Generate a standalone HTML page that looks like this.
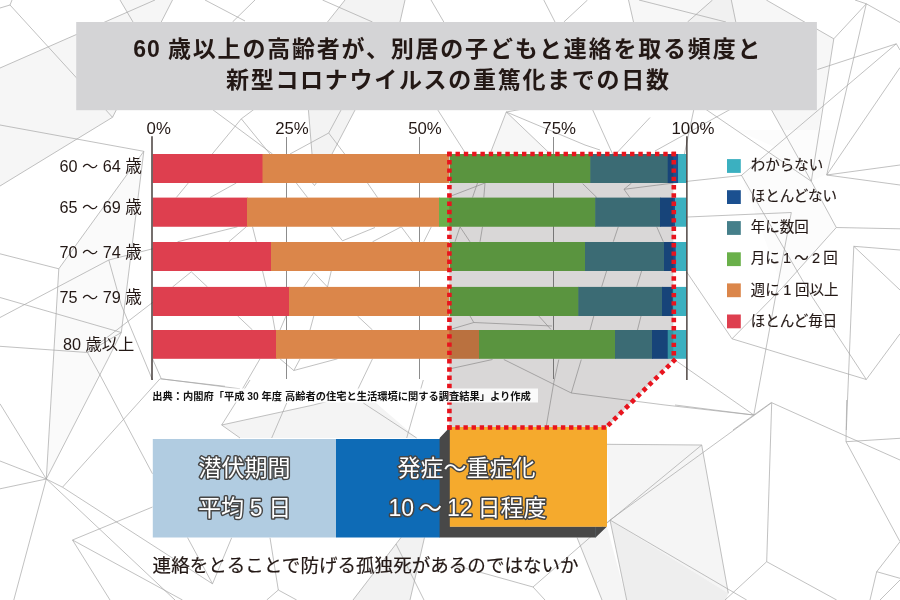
<!DOCTYPE html>
<html lang="ja">
<head>
<meta charset="utf-8">
<title>60歳以上の高齢者が、別居の子どもと連絡を取る頻度と新型コロナウイルスの重篤化までの日数</title>
<style>
html,body{margin:0;padding:0;background:#fff;}
body{width:900px;height:600px;overflow:hidden;position:relative;}
svg{position:absolute;left:0;top:0;display:block;}
text{font-family:"Liberation Sans","Noto Sans CJK JP",sans-serif;fill:#231815;}
.ttl{font-size:23px;font-weight:700;letter-spacing:1.7px;}
.ax{font-size:16.8px;}
.row{font-size:16.2px;}
.row .k{font-size:16.6px;}
.lg text{font-size:14.5px;stroke:#231815;stroke-width:0.15px;}
.src{font-size:10.25px;font-weight:700;fill:#111;}
.big text{font-size:23px;fill:#fff;stroke:#454545;stroke-width:3px;stroke-linejoin:round;paint-order:stroke fill;}
.note{font-size:18.56px;stroke:#231815;stroke-width:0.2px;}
</style>
</head>
<body>
<svg id="chart" width="900" height="600" viewBox="0 0 900 600">
<!--BG-->
<g id="bg">
<polygon points="0,68 127,12 120,0 172.5,0 112.5,117.3 0,186" fill="#f6f6f6"/>
<polygon points="143.8,151.3 58.8,268.8 53,370 46.3,479 107.5,360 121.3,332.5 133.8,230" fill="#fafafa"/>
<polygon points="345,0 405,0 400,22 355.3,109.5 332,154 312,154 308.4,109.5 328,22" fill="#f3f3f3"/>
<polygon points="506.3,112 490,154 548.8,152.5" fill="#f7f7f7"/>
<polygon points="221.7,425 313.3,405 363.3,392 416.7,438 240,438" fill="#f4f4f4"/>
<polygon points="401,537.5 424.5,537.5 410,600 353,600" fill="#f2f2f2"/>
<polygon points="577,537.5 607,527 626.7,600 602,600" fill="#f5f5f5"/>
<polygon points="607,444 701.7,445 728.3,593.3 610,520" fill="#f5f5f5"/>
<polygon points="610,520 728.3,593.3 726,600 626.7,600" fill="#eeeeee"/>
<polygon points="628.5,0 766,0 833.8,38.8 815,150 792.5,150 771,109.5 707,109.5 687.5,22 633.5,22" fill="#f7f7f7"/>
<polygon points="712.5,0 731.3,0 735.8,22 687.5,22" fill="#f1f1f1"/>
<polygon points="735.5,130 837,130 826.5,174.3 811.3,181.3 836.3,227.5 782.5,287.5 741.3,175.5 775,147" fill="#fcfcfc"/>
<g fill="none" stroke="#a6a6a6" stroke-width="0.7">
<polyline points="0,68 155,0"/>
<polyline points="0,8 10,5 12,0"/>
<polyline points="10,5 112.5,117.3"/>
<polyline points="120,0 133,22"/>
<polyline points="172.5,0 112.5,117.3 0,186"/>
<polyline points="205,0 245,21"/>
<polyline points="255,0 232.5,22"/>
<polyline points="322.5,0 372.5,22"/>
<polyline points="345,0 327.5,22"/>
<polyline points="405,0 400,22"/>
<polyline points="431,0 443.8,22"/>
<polyline points="543.8,0 555,22"/>
<polyline points="587.5,0 563.8,22"/>
<polyline points="628.5,0 633.5,22"/>
<polyline points="639,0 726,22"/>
<polyline points="712.5,0 687.5,22"/>
<polyline points="731.3,0 735.8,22"/>
<polyline points="766.3,0 833.8,38.8 866.3,3.8 855,0"/>
<polyline points="866.3,3.8 900,22.5"/>
<polyline points="866.3,3.8 826.7,175"/>
<polyline points="833.8,38.8 811.3,181.3"/>
<polyline points="896.3,43.8 817.5,69.5"/>
<polyline points="896.3,43.8 741.3,175.5 687.5,181.3"/>
<polyline points="896.3,43.8 900,50"/>
<polyline points="900,67.5 826.7,175"/>
<polyline points="826.7,175 900,165"/>
<polyline points="826.7,175 900,185"/>
<polyline points="0,125 143.8,151.3"/>
<polyline points="143.8,151.3 58.8,268.8 46.3,479"/>
<polyline points="143.8,151.3 121.3,332.5 87.5,352.5"/>
<polyline points="0,253.8 58.8,268.8"/>
<polyline points="0,317.5 108.8,260 152.5,248.8"/>
<polyline points="108.8,260 121.3,305 152.5,380"/>
<polyline points="0,297.5 121.3,332.5"/>
<polyline points="0,346.3 87.5,352.5 152.5,302.5"/>
<polyline points="87.5,352.5 100,375 152.5,473.8"/>
<polyline points="46.3,479 107.5,360 121.3,332.5"/>
<polyline points="0,403.8 46.3,479"/>
<polyline points="0,461 46.3,479"/>
<polyline points="0,488.8 46.3,479"/>
<polyline points="46.3,479 13.8,600"/>
<polyline points="46.3,479 175,600"/>
<polyline points="46.3,479 62.5,487.2"/>
<polyline points="62.5,487.2 160,378.8 225,386.3"/>
<polyline points="62.5,487.2 212.5,583.8 187.5,537.5"/>
<polyline points="212.5,583.8 231.7,537.7"/>
<polyline points="270,537.7 278.3,590 266.7,600"/>
<polyline points="278.3,590 296.7,600"/>
<polyline points="72.5,540 152.5,507"/>
<polyline points="72.5,540 110,600"/>
<polyline points="72.5,540 182.5,600"/>
<polyline points="212.5,109.5 272.5,154"/>
<polyline points="253.8,109.5 241.3,118.8 176.3,197.5"/>
<polyline points="241.3,118.8 270,154"/>
<polyline points="308.4,109.5 312,154"/>
<polyline points="355.3,109.5 332,154"/>
<polyline points="341.3,109.5 328.7,133 290,154"/>
<polyline points="328.7,133 344.7,154"/>
<polyline points="437.5,109.5 465,152.5"/>
<polyline points="520,109.5 506.3,112 490,154"/>
<polyline points="506.3,112 548.8,152.5"/>
<polyline points="506.3,112 585,145 600,150"/>
<polyline points="236.3,183 210,197.5"/>
<polyline points="296.3,183 307.5,197.5"/>
<polyline points="312.5,183 314.5,185.5 316.3,183"/>
<polyline points="367.5,183 377.5,197.5"/>
<polyline points="237.5,226.8 177.5,241.8"/>
<polyline points="246.3,226.8 228.8,241.8"/>
<polyline points="252.5,226.8 256.3,241.8"/>
<polyline points="331.3,226.8 342.5,240.8 375,227.5"/>
<polyline points="372.5,241.8 401.3,226.8 412.5,241.8"/>
<polyline points="423.8,241.8 431.3,226.8"/>
<polyline points="172.5,287 191.3,271.8 207.5,287"/>
<polyline points="262.5,270.8 266.3,287"/>
<polyline points="303.8,287 313.8,272.5 327.5,287 331.3,270.8"/>
<polyline points="237.5,315.8 252.5,330"/>
<polyline points="272.5,316 275,330"/>
<polyline points="280,330 286,316"/>
<polyline points="313.8,316 310,330"/>
<polyline points="357.5,316 372.5,330"/>
<polyline points="152.5,358.8 161.3,378.8 240,388.8"/>
<polyline points="260,358.8 242.5,388.8"/>
<polyline points="280,358.8 293.8,370.5 337.5,358.8"/>
<polyline points="293.8,370.5 300,359"/>
<polyline points="372.5,358.8 357.5,390"/>
<polyline points="451,196 485,183 483.8,197.5"/>
<polyline points="477.5,183 472.5,197.5"/>
<polyline points="455,241.8 460,226.8 470,241.8"/>
<polyline points="482.5,226.8 480,241.8"/>
<polyline points="450,329.5 473.8,322.5 470,316"/>
<polyline points="473.8,322.5 552,326"/>
<polyline points="538.8,316 551,329.5"/>
<polyline points="593.8,316 590,330"/>
<polyline points="641,316 637.5,330"/>
<polyline points="450,368.8 492.5,359.5"/>
<polyline points="503.8,359.5 571.3,393 665,405 753.3,415"/>
<polyline points="581.3,359.5 571.3,393"/>
<polyline points="558.8,359.5 553.8,382.5 546.3,426"/>
<polyline points="687.5,181.3 624,189.3 631.5,183"/>
<polyline points="624,189.3 630,197.7"/>
<polyline points="582.7,183.7 597,197.7"/>
<polyline points="618.3,226.7 613.3,241.7"/>
<polyline points="656.7,226.7 663.3,241.7"/>
<polyline points="606.7,270.7 601.7,286.7"/>
<polyline points="641.7,270.7 636.7,286.7"/>
<polyline points="250,380 221.7,425 240,438"/>
<polyline points="221.7,425 313.3,405 363.3,392"/>
<polyline points="286.7,403 271.7,438"/>
<polyline points="363.3,403 416.7,438"/>
<polyline points="423.3,380 406.7,438"/>
<polyline points="401,537.5 353,600"/>
<polyline points="424.5,537.5 410,600"/>
<polyline points="396,544 424,600"/>
<polyline points="610,520 533,587 456,565.5"/>
<polyline points="533,587 545,600"/>
<polyline points="577,537.5 602,600"/>
<polyline points="592.5,109.5 613,155"/>
<polyline points="650,117.5 612,158"/>
<polyline points="706,109.5 811.3,181.3"/>
<polyline points="771.3,109.5 811.3,181.3"/>
<polyline points="730,109.5 655,151"/>
<polyline points="693.8,109.5 684,156"/>
<polyline points="741.3,175 812.5,297.5 866.3,379.5"/>
<polyline points="811.3,181.3 836.3,227.5 900,228.8"/>
<polyline points="836.3,227.5 782.5,287.5 732,338.8"/>
<polyline points="687.5,217 791.3,212.5 776.3,292.5 753.8,415"/>
<polyline points="853.8,246.3 900,250"/>
<polyline points="853.8,246.3 900,290"/>
<polyline points="853.8,246.3 846.3,430"/>
<polyline points="686.7,272 732,338.8 866.3,379.5 900,333.8"/>
<polyline points="675,360 753.8,415"/>
<polyline points="675,405 753.8,415 771.3,402.5"/>
<polyline points="733,430 753.8,415"/>
<polyline points="771.7,402.7 832.5,430 900,460"/>
<polyline points="771.7,402.7 766.7,561.7 725,600"/>
<polyline points="766.7,561.7 836.7,600"/>
<polyline points="771.7,402.7 610,520"/>
<polyline points="607,523 701.7,445 607,444.3"/>
<polyline points="701.7,445 728.3,593.3"/>
<polyline points="610,520 626.7,600"/>
<polyline points="610,520 746.7,600"/>
<polyline points="846.7,400 846,441.7 900,541.7 876.7,571.7 870,600"/>
<polyline points="846,441.7 900,438.3"/>
<polyline points="876.7,571.7 900,578.3"/>
<polyline points="900,580 880,600"/>
</g>
</g>
<!--/BG-->

<!-- title banner -->
<rect x="76.2" y="22" width="740.7" height="88.2" fill="#d4d4d6"/>
<text class="ttl" id="t1" x="133.3" y="57" style="letter-spacing:1.8px"><tspan style="letter-spacing:0.9px">60 </tspan>歳以上の高齢者が、別居の子どもと連絡を取る頻度と</text>
<text class="ttl" id="t2" x="226" y="88">新型コロナウイルスの重篤化までの日数</text>

<!-- axis labels -->
<g class="ax">
<text x="146.6" y="134.2">0%</text>
<text x="275.2" y="134.2">25%</text>
<text x="408.2" y="134.2">50%</text>
<text x="542.3" y="134.2">75%</text>
<text x="671.5" y="134.2">100%</text>
</g>

<!-- grid lines -->
<g stroke="#6e6e6e" stroke-width="0.8" fill="none">
<line x1="286.5" y1="137" x2="286.5" y2="379"/>
<line x1="419.5" y1="137" x2="419.5" y2="379"/>
<line x1="553.5" y1="137" x2="553.5" y2="379"/>
</g>

<!-- bars -->
<g id="bars">
<g transform="translate(0,154)">
<rect x="152.8" width="110.3" height="29" fill="#de3f4f"/><rect x="262.5" width="186.5" height="29" fill="#db864a"/><rect x="449.7" width="141.2" height="29" fill="#6ab04a"/><rect x="590.3" width="78" height="29" fill="#457f8a"/><rect x="667.7" width="11" height="29" fill="#1b5090"/><rect x="678.1" width="8.2" height="29" fill="#3bb0c0"/>
</g>
<g transform="translate(0,197.6)">
<rect x="152.8" width="94.8" height="29.15" fill="#de3f4f"/><rect x="247" width="192.6" height="29.15" fill="#db864a"/><rect x="439" width="156.8" height="29.15" fill="#6ab04a"/><rect x="595.2" width="65.4" height="29.15" fill="#457f8a"/><rect x="660" width="15.7" height="29.15" fill="#1b5090"/><rect x="675.1" width="11.2" height="29.15" fill="#3bb0c0"/>
</g>
<g transform="translate(0,242)">
<rect x="152.8" width="118.8" height="29" fill="#de3f4f"/><rect x="271" width="178" height="29" fill="#db864a"/><rect x="449.7" width="135.9" height="29" fill="#6ab04a"/><rect x="585" width="79.6" height="29" fill="#457f8a"/><rect x="664" width="12.3" height="29" fill="#1b5090"/><rect x="675.7" width="10.6" height="29" fill="#3bb0c0"/>
</g>
<g transform="translate(0,286.9)">
<rect x="152.8" width="136.8" height="29.1" fill="#de3f4f"/><rect x="289" width="160" height="29.1" fill="#db864a"/><rect x="449.7" width="129.2" height="29.1" fill="#6ab04a"/><rect x="578.3" width="84.3" height="29.1" fill="#457f8a"/><rect x="662" width="11.3" height="29.1" fill="#1b5090"/><rect x="672.7" width="13.6" height="29.1" fill="#3bb0c0"/>
</g>
<g transform="translate(0,330)">
<rect x="152.8" width="123.8" height="28.8" fill="#de3f4f"/><rect x="276" width="203.6" height="28.8" fill="#db864a"/><rect x="479" width="136.6" height="28.8" fill="#6ab04a"/><rect x="615" width="37.6" height="28.8" fill="#457f8a"/><rect x="652" width="16.3" height="28.8" fill="#1b5090"/><rect x="667.7" width="18.6" height="28.8" fill="#3bb0c0"/>
</g>
</g>

<!-- axes -->
<line x1="152" y1="136.2" x2="152" y2="380" stroke="#231815" stroke-width="1.25"/>
<line x1="686.9" y1="136.2" x2="686.9" y2="380" stroke="#231815" stroke-width="1.2"/>

<!-- row labels -->
<g class="row" text-anchor="end">
<text x="141.9" y="171.7">60 〜 64 <tspan class="k">歳</tspan></text>
<text x="141.9" y="213">65 〜 69 <tspan class="k">歳</tspan></text>
<text x="141.9" y="257.5">70 〜 74 <tspan class="k">歳</tspan></text>
<text x="141.9" y="303">75 〜 79 <tspan class="k">歳</tspan></text>
<text x="134.3" y="349.7">80 <tspan class="k" style="font-size:16.3px">歳以上</tspan></text>
</g>

<!-- highlighted zone -->
<polygon points="449.3,154 673.3,154 673.3,360 606.8,427.5 449.3,427.5" fill="#d9d7d7" style="mix-blend-mode:multiply"/>

<!-- timeline boxes -->
<rect x="152.8" y="439" width="183.4" height="98.5" fill="#b1cce1"/>
<rect x="336" y="439" width="104" height="98.5" fill="#0e6bb6"/>
<polygon points="450,427 439.6,438 439.6,537.6 595.6,537.6 607,526.6 450,526.6" fill="#484848"/>
<line x1="595.6" y1="527" x2="595.6" y2="537.4" stroke="#5c6468" stroke-width="0.6"/>
<rect x="449.8" y="427" width="157.2" height="99.7" fill="#f5aa2d"/>
<!-- dotted outline of highlighted zone -->
<g id="dots" fill="none" stroke="#e8141e" stroke-width="4.6">
<line x1="447.20" y1="154.00" x2="676.00" y2="154.00" stroke-dasharray="4.4 3.911"/>
<line x1="673.80" y1="151.80" x2="673.80" y2="355.40" stroke-dasharray="4.4 3.900"/>
<line x1="675.57" y1="359.06" x2="607.83" y2="425.64" stroke-dasharray="4.4 3.835"/>
<line x1="447.20" y1="427.50" x2="605.90" y2="427.50" stroke-dasharray="4.4 3.721"/>
<line x1="449.40" y1="151.80" x2="449.40" y2="429.70" stroke-dasharray="4.4 3.888"/>
</g>

<!-- source caption -->
<rect x="152" y="388.5" width="386" height="14" fill="#fff" fill-opacity="0.86"/>
<text class="src" id="src" x="152.2" y="400.2">出典：内閣府「平成 30 年度 高齢者の住宅と生活環境に関する調査結果」より作成</text>

<g class="big" text-anchor="middle">
<text x="244.5" y="475.6">潜伏期間</text>
<text x="244.6" y="515.6" style="word-spacing:-0.6px">平均 5 日</text>
<text x="466.6" y="475.7">発症〜重症化</text>
<text x="467.5" y="515.6" style="word-spacing:-1.5px">10 〜 12 日程度</text>
</g>

<text class="note" id="note" x="152.6" y="571.7">連絡をとることで防げる孤独死があるのではないか</text>

<!-- legend -->
<g id="legend-marks">
<rect x="727" y="159.1" width="13.8" height="13.8" fill="#3bb0c0"/>
<rect x="727" y="190.2" width="13.8" height="13.8" fill="#1b5090"/>
<rect x="727" y="221.1" width="13.8" height="13.8" fill="#457f8a"/>
<rect x="727" y="252.3" width="13.8" height="13.8" fill="#6ab04a"/>
<rect x="727" y="283.4" width="13.8" height="13.8" fill="#db864a"/>
<rect x="727" y="314.5" width="13.8" height="13.8" fill="#de3f4f"/>
</g>
<g class="lg">
<text x="750.8" y="170.0">わからない</text>
<text x="750.8" y="201.3">ほとんどない</text>
<text x="750.8" y="232.1">年に数回</text>
<text x="750.8" y="263.2" style="word-spacing:-0.8px">月に 1 〜 2 回</text>
<text x="750.8" y="295.2" style="word-spacing:-0.5px">週に 1 回以上</text>
<text x="750.8" y="326.0">ほとんど毎日</text>
</g>
</svg>
</body>
</html>
